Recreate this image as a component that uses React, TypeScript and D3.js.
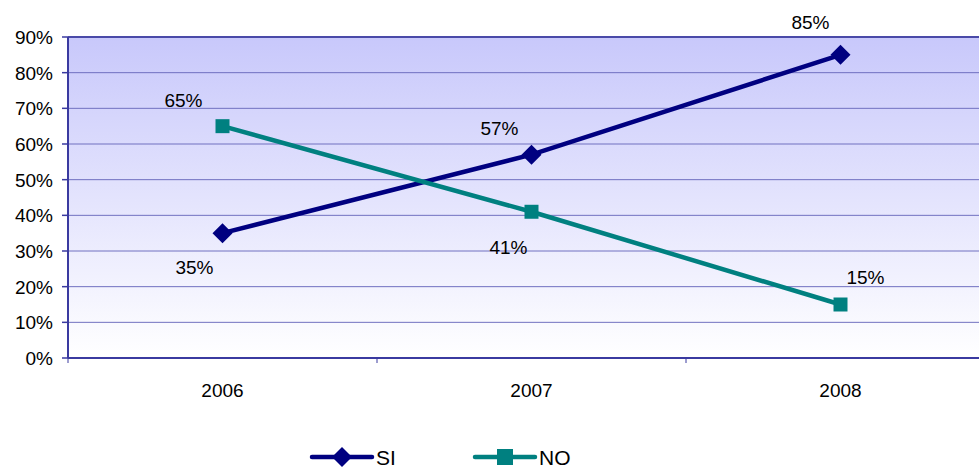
import React, {useEffect, useRef} from "react";
import * as d3 from "d3";

const years = ["2006", "2007", "2008"];
const siValues = [35, 57, 85];
const noValues = [65, 41, 15];
const yTicks = [0, 10, 20, 30, 40, 50, 60, 70, 80, 90];

const W = 979;
const H = 470;
const FONT = "Liberation Sans, Arial, Helvetica, sans-serif";

// wide diamond like the office charts use
const diamond = (r: number) => `M0,${-r}L${r},0L0,${r}L${-r},0Z`;
const square = (r: number) => `M${-r},${-r}H${r}V${r}H${-r}Z`;

export default function App() {
    const svgRef = useRef<SVGSVGElement | null>(null);

    useEffect(() => {
        if (!svgRef.current) return;
        const svg = d3.select(svgRef.current);
        svg.selectAll("*").remove();

        const left = 68, top = 37, bottom = 358;
        const right = left + 3 * 309;

        const x = d3.scaleBand<string>().domain(years).range([left, right]);
        const y = d3.scaleLinear().domain([0, 90]).range([bottom, top]);

        const defs = svg.append("defs");
        const grad = defs.append("linearGradient")
            .attr("id", "bg").attr("x1", 0).attr("y1", 0).attr("x2", 0).attr("y2", 1);
        grad.append("stop").attr("offset", "0%").attr("stop-color", "#c8c8fb");
        grad.append("stop").attr("offset", "100%").attr("stop-color", "#ffffff");

        svg.append("rect")
            .attr("x", left).attr("y", top)
            .attr("width", right - left).attr("height", bottom - top)
            .attr("fill", "url(#bg)");

        // gridlines
        svg.append("g").selectAll("line")
            .data(yTicks.filter((t) => t > 0 && t < 90))
            .enter().append("line")
            .attr("x1", left).attr("x2", right)
            .attr("y1", (d) => y(d)).attr("y2", (d) => y(d))
            .attr("stroke", "#7070c0").attr("stroke-width", 1);

        // top border
        svg.append("line")
            .attr("x1", left).attr("x2", right)
            .attr("y1", top).attr("y2", top)
            .attr("stroke", "#4a4aa8").attr("stroke-width", 2);

        // y axis
        svg.append("line")
            .attr("x1", left).attr("x2", left)
            .attr("y1", top).attr("y2", bottom)
            .attr("stroke", "#3a3aa0").attr("stroke-width", 2);
        svg.append("g").selectAll("line")
            .data(yTicks).enter().append("line")
            .attr("x1", left - 6).attr("x2", left)
            .attr("y1", (d) => y(d)).attr("y2", (d) => y(d))
            .attr("stroke", "#3a3aa0").attr("stroke-width", 1.5);
        svg.append("g").selectAll("text")
            .data(yTicks).enter().append("text")
            .attr("x", 53).attr("y", (d) => y(d))
            .attr("dy", "0.36em")
            .attr("text-anchor", "end")
            .style("font-family", FONT)
            .style("font-size", "19px")
            .text((d) => `${d}%`);

        // x axis
        svg.append("line")
            .attr("x1", left).attr("x2", right)
            .attr("y1", bottom).attr("y2", bottom)
            .attr("stroke", "#3a3aa0").attr("stroke-width", 2);
        svg.append("g").selectAll("line")
            .data(years).enter().append("line")
            .attr("x1", (d) => x(d)!).attr("x2", (d) => x(d)!)
            .attr("y1", bottom).attr("y2", bottom + 5)
            .attr("stroke", "#3a3aa0").attr("stroke-width", 1);
        svg.append("g").selectAll("text")
            .data(years).enter().append("text")
            .attr("x", (d) => x(d)! + x.bandwidth() / 2)
            .attr("y", 397)
            .attr("text-anchor", "middle")
            .style("font-family", FONT)
            .style("font-size", "19px")
            .text((d) => d);

        const cx = (i: number) => x(years[i])! + x.bandwidth() / 2;
        const line = d3.line<number>().x((_, i) => cx(i)).y((d) => y(d));

        const series = [
            {name: "SI", values: siValues, color: "#000080", marker: diamond(10)},
            {name: "NO", values: noValues, color: "#008080", marker: square(7)},
        ];

        series.forEach((s) => {
            svg.append("path")
                .datum(s.values)
                .attr("d", line)
                .attr("fill", "none")
                .attr("stroke", s.color)
                .attr("stroke-width", 4.5);
            svg.append("g").selectAll("path")
                .data(s.values).enter().append("path")
                .attr("transform", (d, i) => `translate(${cx(i)},${y(d)})`)
                .attr("d", s.marker)
                .attr("fill", s.color);
        });

        // data labels
        const labels = [
            {v: siValues[0], i: 0, dx: -28, dy: 34},
            {v: siValues[1], i: 1, dx: -32, dy: -27},
            {v: siValues[2], i: 2, dx: -30, dy: -33},
            {v: noValues[0], i: 0, dx: -39, dy: -26},
            {v: noValues[1], i: 1, dx: -23, dy: 35},
            {v: noValues[2], i: 2, dx: 25, dy: -27},
        ];
        svg.append("g").selectAll("text")
            .data(labels).enter().append("text")
            .attr("x", (d) => cx(d.i) + d.dx)
            .attr("y", (d) => y(d.v) + d.dy)
            .attr("text-anchor", "middle")
            .attr("dy", "0.36em")
            .style("font-family", FONT)
            .style("font-size", "19px")
            .text((d) => `${d.v}%`);

        // legend
        const legend = [
            {name: "SI", color: "#000080", marker: diamond(10), x: 312},
            {name: "NO", color: "#008080", marker: square(8), x: 475},
        ];
        const ly = 457;
        legend.forEach((l) => {
            svg.append("line")
                .attr("x1", l.x).attr("x2", l.x + 60)
                .attr("y1", ly).attr("y2", ly)
                .attr("stroke", l.color).attr("stroke-width", 4.5)
                .attr("stroke-linecap", "round");
            svg.append("path")
                .attr("transform", `translate(${l.x + 30},${ly})`)
                .attr("d", l.marker)
                .attr("fill", l.color);
            svg.append("text")
                .attr("x", l.x + 64).attr("y", ly)
                .attr("dy", "0.36em")
                .style("font-family", FONT)
                .style("font-size", "21px")
                .text(l.name);
        });
    }, []);

    return <svg ref={svgRef} width={W} height={H}
                style={{position: "absolute", left: 0, top: 0, display: "block"}} />;
}
